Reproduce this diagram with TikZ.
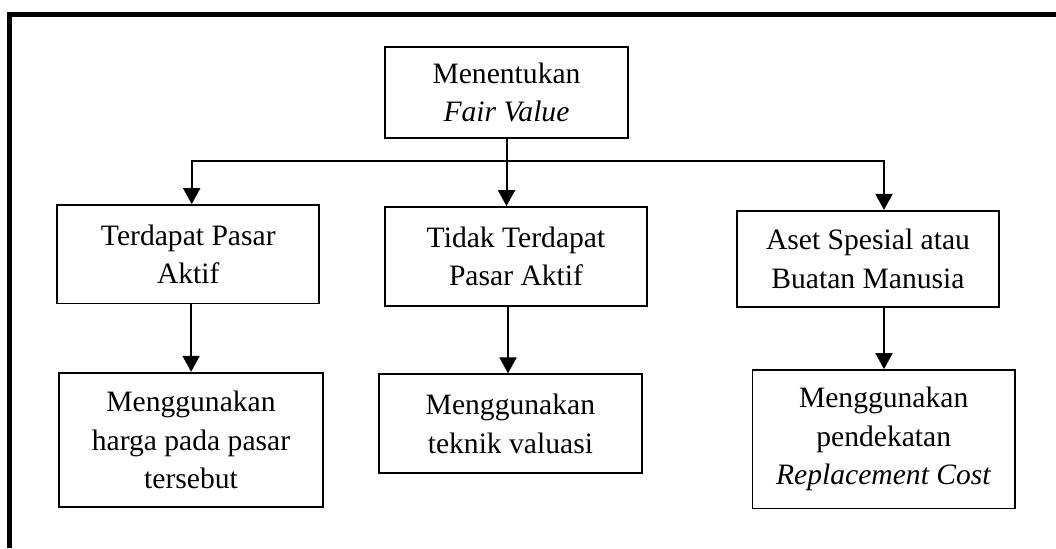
\documentclass[tikz,border=0pt]{standalone}
\usepackage{fontspec}
\setmainfont{Liberation Serif}
\usetikzlibrary{arrows.meta,calc}
\begin{document}
\begin{tikzpicture}[x=0.5pt,y=-0.5pt,
  box/.style={draw=black,line width=0.9pt,align=center,inner sep=0pt,
    font=\fontsize{14.8}{19.2}\selectfont},
  arr/.style={line width=1pt,-{Triangle[length=8pt,width=8.5pt]}}]
\useasboundingbox (0,0) rectangle (1056,548);
\draw[line width=2.5pt,line join=miter] (9.5,548) -- (9.5,14.5) -- (1060,14.5);

\node[box,minimum width=121.5pt,minimum height=45.5pt] (top) at (506.5,92.5) {Menentukan\\\textit{Fair Value}};
\node[box,minimum width=131pt,minimum height=49.2pt] (L1) at (188.3,254.2) {Terdapat Pasar\\Aktif};
\node[box,minimum width=131pt,minimum height=49.5pt] (M1) at (516,256.5) {Tidak Terdapat\\Pasar Aktif};
\node[box,minimum width=131pt,minimum height=48.2pt] (R1) at (868,259) {Aset Spesial atau\\Buatan Manusia};
\node[box,minimum width=132pt,minimum height=67.3pt] (L2) at (191,440) {Menggunakan\\harga pada pasar\\tersebut};
\node[box,minimum width=131.3pt,minimum height=49.5pt] (M2) at (510.4,423.8) {Menggunakan\\teknik valuasi};
\node[box,minimum width=131.3pt,minimum height=69.2pt] (R2) at (883.7,439.2) {Menggunakan\\pendekatan\\\textit{Replacement Cost}};

\coordinate (j) at (top.south |- 0,160.7);
\draw[arr] (top.south) -- (top.south |- M1.north);
\draw[arr] (j) -| ([xshift=1.7pt]L1.north);
\draw[arr] (j) -| ([xshift=8pt]R1.north);
\draw[arr] ([xshift=1.4pt]L1.south) -- ([xshift=1.4pt]L1.south |- L2.north);
\draw[arr] ([xshift=-4pt]M1.south) -- ([xshift=-4pt]M1.south |- M2.north);
\draw[arr] ([xshift=8pt]R1.south) -- ([xshift=8pt]R1.south |- R2.north);
\end{tikzpicture}
\end{document}
